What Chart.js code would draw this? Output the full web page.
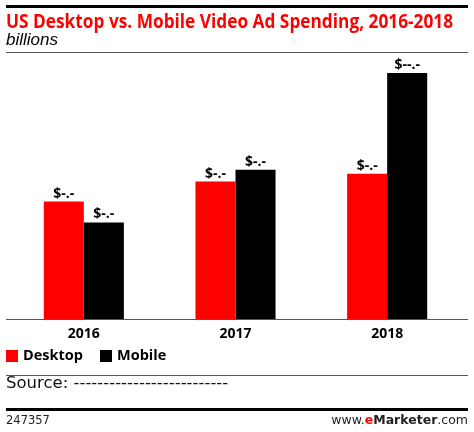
<!DOCTYPE html>
<html>
<head>
<meta charset="utf-8">
<script src="https://cdn.jsdelivr.net/npm/chart.js@4/dist/chart.umd.min.js"></script>
<style>
  html, body { margin: 0; padding: 0; background: #fff; }
  #wrap { position: relative; width: 474px; height: 432px; overflow: hidden; }
  #chart { position: absolute; left: 0; top: 0; }
  .rule { position: absolute; left: 6px; width: 462px; }
  .txt { position: absolute; white-space: nowrap; }
  #title { transform-origin: 0 0; }
</style>
</head>
<body>
<div id="wrap">
  <canvas id="chart" width="474" height="432"></canvas>
  <div class="rule" style="top:5px;height:3px;background:#000"></div>
  <div id="title" class="txt" style="left:6px;top:7px;font:bold 19.5px 'Open Sans', sans-serif;color:#f00;">US Desktop vs. Mobile Video Ad Spending, 2016-2018</div>
  <div class="txt" style="left:6px;top:30px;font:italic 17px 'Liberation Sans', sans-serif;color:#000;">billions</div>
  <div class="rule" style="top:52px;height:1px;background:#555"></div>
  <div class="rule" style="top:375px;height:1px;background:#555"></div>
  <div class="txt" style="left:6px;top:373px;font:16.5px 'DejaVu Sans', sans-serif;color:#111;">Source: --------------------------</div>
  <div class="rule" style="top:408px;height:3px;background:#000"></div>
  <div class="txt" style="left:6px;top:413px;font:11.5px 'DejaVu Sans', sans-serif;color:#222;">247357</div>
  <div class="txt" style="right:6px;top:412px;font:12.5px 'DejaVu Sans', sans-serif;color:#222;">www.<b style="color:#f00">e</b><b>Marketer</b>.com</div>
</div>
<script>
const years = ['2016', '2017', '2018'];
const desktop = [4.72, 5.52, 5.84];
const mobile = [3.88, 6.0, 9.88];
const desktopLabels = ['$-.-', '$-.-', '$-.-'];
const mobileLabels = ['$-.-', '$-.-', '$--.-'];
const yMax = 10.4;

// squeeze the title to the reference width
const title = document.getElementById('title');
title.style.transform = 'scaleX(' + (447 / title.offsetWidth) + ')';

const valueLabels = {
    id: 'valueLabels',
    afterDatasetsDraw(chart) {
        const ctx = chart.ctx;
        ctx.save();
        ctx.font = 'bold 14px "Open Sans", sans-serif';
        ctx.fillStyle = '#000';
        ctx.textAlign = 'center';
        ctx.textBaseline = 'bottom';
        chart.data.datasets.forEach((ds, i) => {
            chart.getDatasetMeta(i).data.forEach((bar, j) => {
                ctx.fillText(ds.valueText[j], bar.x, bar.y - 1);
            });
        });
        ctx.restore();
    }
};

const baseLine = {
    id: 'baseLine',
    afterDraw(chart) {
        const ctx = chart.ctx;
        const y = chart.scales.y.getPixelForValue(0);
        ctx.save();
        ctx.strokeStyle = '#555';
        ctx.lineWidth = 1;
        ctx.beginPath();
        ctx.moveTo(6, Math.round(y) + 0.5);
        ctx.lineTo(468, Math.round(y) + 0.5);
        ctx.stroke();
        ctx.restore();
    }
};

const sideLegend = {
    id: 'sideLegend',
    afterDraw(chart) {
        const ctx = chart.ctx;
        const xs = [6, 100];
        ctx.save();
        ctx.font = 'bold 14.5px "Open Sans", sans-serif';
        ctx.textBaseline = 'middle';
        chart.data.datasets.forEach((ds, i) => {
            ctx.fillStyle = ds.backgroundColor;
            ctx.fillRect(xs[i], 350, 12, 12);
            ctx.fillStyle = '#000';
            ctx.fillText(ds.label, xs[i] + 17, 356);
        });
        ctx.restore();
    }
};

new Chart(document.getElementById('chart').getContext('2d'), {
    type: 'bar',
    data: {
        labels: years,
        datasets: [
            { label: 'Desktop', data: desktop, valueText: desktopLabels, backgroundColor: '#f00', borderWidth: 0 },
            { label: 'Mobile', data: mobile, valueText: mobileLabels, backgroundColor: '#000', borderWidth: 0 }
        ]
    },
    options: {
        responsive: false,
        animation: false,
        layout: { padding: { top: 60, right: 11, bottom: 84, left: 0 } },
        plugins: { legend: { display: false }, tooltip: { enabled: false } },
        datasets: { bar: { barPercentage: 1, categoryPercentage: 0.528 } },
        scales: {
            x: {
                grid: { display: false, drawTicks: false },
                border: { display: false },
                ticks: { color: '#000', padding: 6, font: { family: 'Open Sans', weight: 'bold', size: 14 } }
            },
            y: {
                min: 0,
                max: yMax,
                grid: { display: false, drawTicks: false },
                border: { display: false },
                ticks: { display: false },
                afterFit: s => { s.width = 8; }
            }
        }
    },
    plugins: [valueLabels, baseLine, sideLegend]
});
</script>
</body>
</html>
